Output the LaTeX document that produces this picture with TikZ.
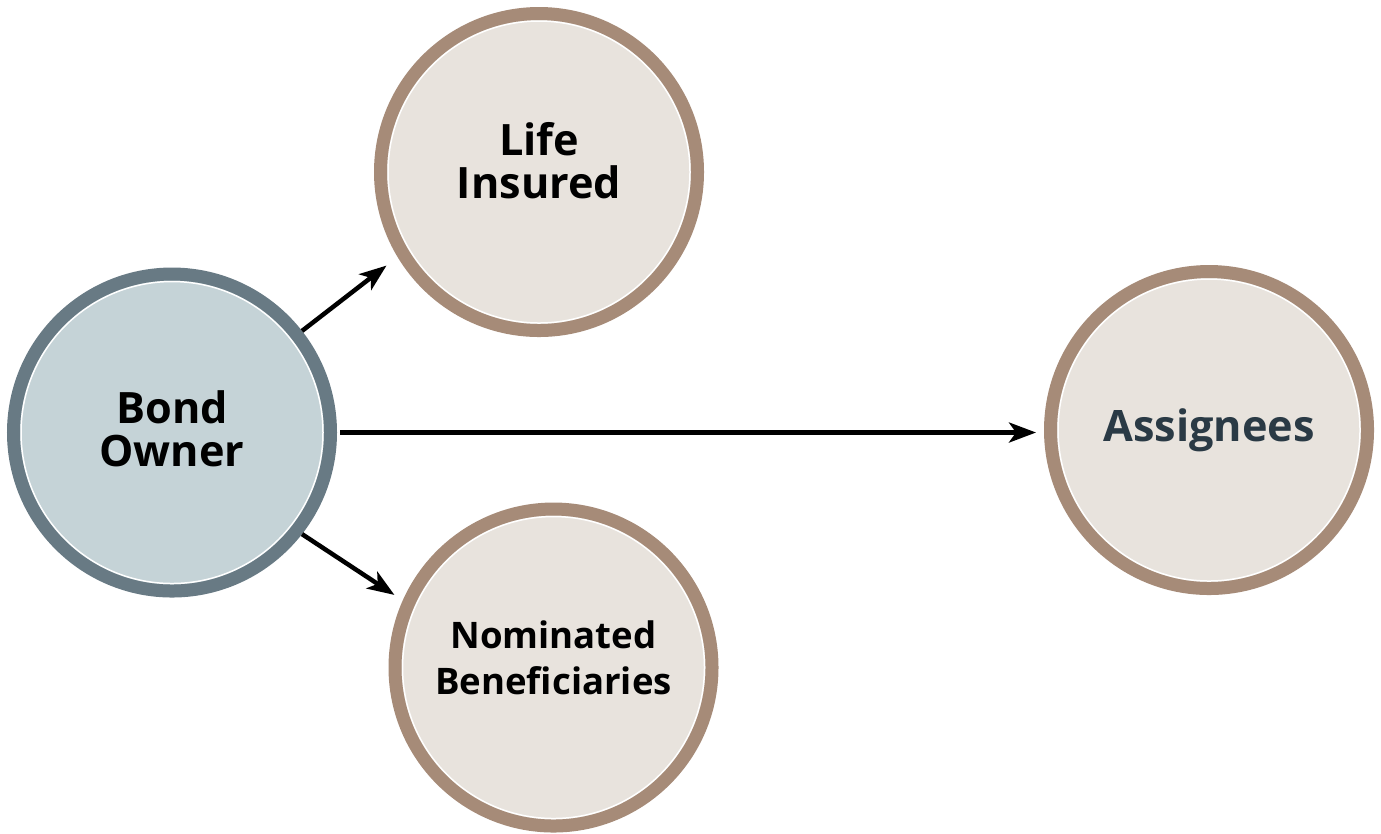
\documentclass[tikz,border=0pt]{standalone}
\usepackage{fontspec}
\setmainfont{Open Sans}
\usetikzlibrary{arrows.meta}
\definecolor{ringbrown}{HTML}{A68B78}
\definecolor{fillbeige}{HTML}{E8E3DD}
\definecolor{ringslate}{HTML}{687A84}
\definecolor{fillslate}{HTML}{C5D3D7}
\definecolor{textslate}{HTML}{2A3A45}
\newcommand\liftby[1]{\rule[-#1]{0pt}{0pt}}

\begin{document}
\begin{tikzpicture}[
        party/.style={circle,draw=ringbrown,fill=fillbeige,line width=0.13cm,
            minimum size=3.17cm,inner sep=0pt,align=center,
            font=\bfseries\fontsize{12.3}{12}\selectfont,
            path picture={\draw[white,line width=0.015cm]
                (path picture bounding box.center) circle (1.51);}},
        owner/.style={party,draw=ringslate,fill=fillslate},
        smalltext/.style={font=\bfseries\fontsize{10.4}{13.1}\selectfont},
        link/.style={-{Stealth[length=0.27cm,width=0.2cm,inset=0.07cm]},line width=0.045cm}]
        \useasboundingbox (0,0) rectangle (13.81,-8.33);
        \node[owner] (bond) at (1.72,-4.325) {Bond\\Owner\liftby{0.08cm}};
        \node[party] (insured) at (5.39,-1.72) {Life\\Insured\liftby{0.23cm}};
        \node[party,smalltext] (nominee) at (5.535,-6.675) {Nominated\\Beneficiaries\liftby{0.2cm}};
        \node[party,text=textslate] (assignee) at (12.09,-4.30) {Assignees};
        \draw[link,shorten >=0.14cm] (bond.38) -- (insured.211);
        \draw[link,shorten >=0.1cm] (bond.-38) -- (nominee.156);
        \draw[link,shorten <=0.03cm,shorten >=0.08cm] (bond.east) -- (bond.east -| assignee.west);
    \end{tikzpicture}
\end{document}
